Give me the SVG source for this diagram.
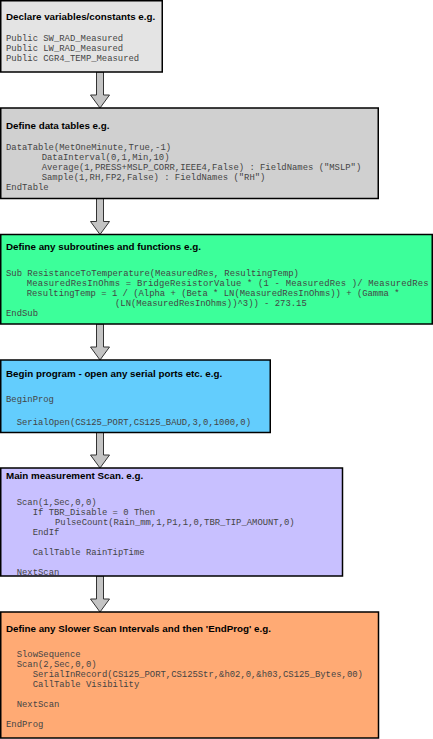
<svg xmlns="http://www.w3.org/2000/svg" width="433" height="739" viewBox="0 0 433 739">
  <style>
    .box { stroke: #000; stroke-width: 1.5; }
    .title { font-family: "Liberation Sans", Arial, sans-serif; font-weight: bold; font-size: 9.8px; fill: #000; }
    .code { font-family: "Liberation Mono", "Courier New", monospace; font-size: 8.9px; fill: #444; white-space: pre; }
    .arrow { fill: #c4c4c4; stroke: #333; stroke-width: 1; stroke-linejoin: miter; }
  </style>
  <defs>
    <!-- hollow block arrow pointing down, tip at origin, 36px long -->
    <path id="downArrow" class="arrow" d="M -3.5 -36 L 3.5 -36 L 3.5 -13 L 9.5 -13 L 0 0 L -9.5 -13 L -3.5 -13 Z"/>
  </defs>

  <g id="connectors">
    <use href="#downArrow" x="100" y="108"/>
    <use href="#downArrow" x="100" y="234.5"/>
    <use href="#downArrow" x="100" y="360"/>
    <use href="#downArrow" x="100" y="468"/>
    <use href="#downArrow" x="100" y="612"/>
  </g>

  <g id="declare">
    <rect class="box" x="0.75" y="0.75" width="161.5" height="71.25" fill="#e4e4e4"/>
    <text class="title" x="6" y="19.5">Declare variables/constants e.g.</text>
    <text class="code" x="6" y="41">Public SW_RAD_Measured</text>
    <text class="code" x="6" y="51">Public LW_RAD_Measured</text>
    <text class="code" x="6" y="61">Public CGR4_TEMP_Measured</text>
  </g>

  <g id="datatables">
    <rect class="box" x="0.75" y="108" width="377.5" height="90.5" fill="#d0d0d0"/>
    <text class="title" x="6" y="128.5">Define data tables e.g.</text>
    <text class="code" x="6" y="150">DataTable(MetOneMinute,True,-1)</text>
    <text class="code" x="41.7" y="160">DataInterval(0,1,Min,10)</text>
    <text class="code" x="41.7" y="170">Average(1,PRESS+MSLP_CORR,IEEE4,False) : FieldNames ("MSLP")</text>
    <text class="code" x="41.7" y="180">Sample(1,RH,FP2,False) : FieldNames ("RH")</text>
    <text class="code" x="6" y="190">EndTable</text>
  </g>

  <g id="subroutines">
    <rect class="box" x="0.75" y="234.5" width="431.5" height="89.5" fill="#3cff9a"/>
    <text class="title" x="6" y="250">Define any subroutines and functions e.g.</text>
    <text class="code" x="6" y="276">Sub ResistanceToTemperature(MeasuredRes, ResultingTemp)</text>
    <text class="code" x="26.7" y="286" textLength="402" lengthAdjust="spacing">MeasuredResInOhms = BridgeResistorValue * (1 - MeasuredRes )/ MeasuredRes</text>
    <text class="code" x="26.7" y="296">ResultingTemp = 1 / (Alpha + (Beta * LN(MeasuredResInOhms)) + (Gamma *</text>
    <text class="code" x="115" y="306">(LN(MeasuredResInOhms))^3)) - 273.15</text>
    <text class="code" x="6" y="316">EndSub</text>
  </g>

  <g id="beginprog">
    <rect class="box" x="0.75" y="360" width="269.5" height="72.5" fill="#63cdfd"/>
    <text class="title" x="6" y="376.5">Begin program - open any serial ports etc. e.g.</text>
    <text class="code" x="6" y="401.5">BeginProg</text>
    <text class="code" x="16.7" y="425">SerialOpen(CS125_PORT,CS125_BAUD,3,0,1000,0)</text>
  </g>

  <g id="mainscan">
    <rect class="box" x="0.75" y="468" width="341.75" height="108" fill="#c8c0ff"/>
    <text class="title" x="6" y="479">Main measurement Scan. e.g.</text>
    <text class="code" x="16.7" y="505">Scan(1,Sec,0,0)</text>
    <text class="code" x="32.7" y="515">If TBR_Disable = 0 Then</text>
    <text class="code" x="55" y="525">PulseCount(Rain_mm,1,P1,1,0,TBR_TIP_AMOUNT,0)</text>
    <text class="code" x="32.7" y="535">EndIf</text>
    <text class="code" x="32.7" y="555">CallTable RainTipTime</text>
    <text class="code" x="16.7" y="575">NextScan</text>
  </g>

  <g id="slowscan">
    <rect class="box" x="0.75" y="612" width="377.75" height="126" fill="#ffaa74"/>
    <text class="title" x="6" y="632">Define any Slower Scan Intervals and then 'EndProg' e.g.</text>
    <text class="code" x="16.7" y="657">SlowSequence</text>
    <text class="code" x="16.7" y="667">Scan(2,Sec,0,0)</text>
    <text class="code" x="32.7" y="677">SerialInRecord(CS125_PORT,CS125Str,&amp;h02,0,&amp;h03,CS125_Bytes,00)</text>
    <text class="code" x="32.7" y="687">CallTable Visibility</text>
    <text class="code" x="16.7" y="707">NextScan</text>
    <text class="code" x="6" y="727">EndProg</text>
  </g>
</svg>
